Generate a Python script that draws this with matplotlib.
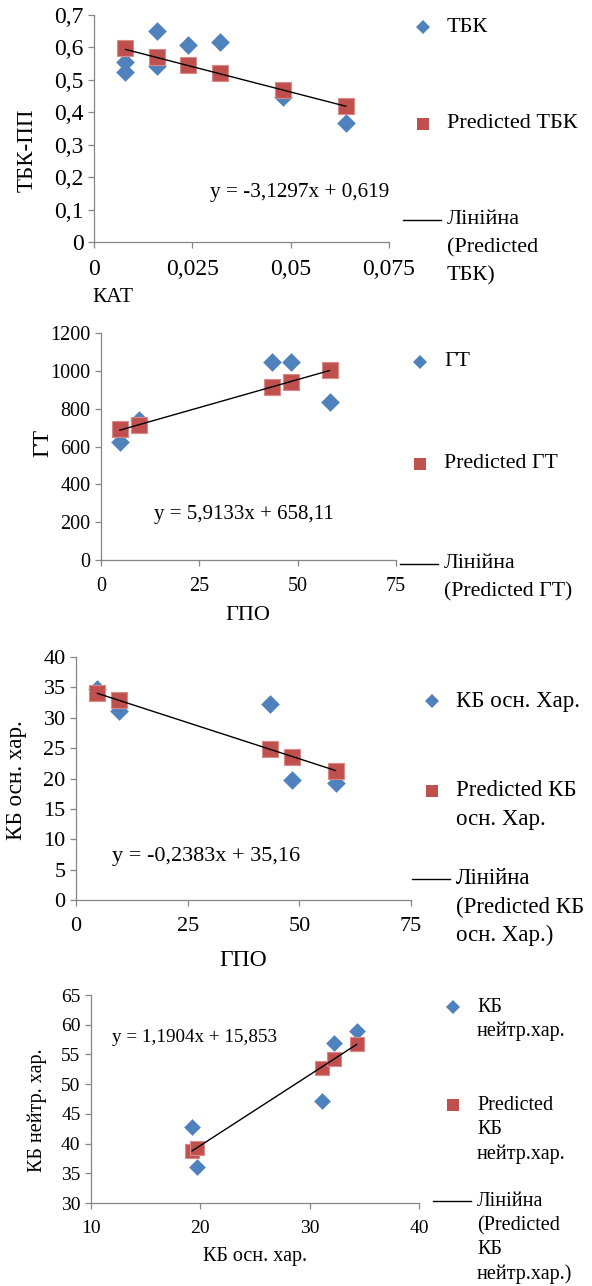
import matplotlib.pyplot as plt
from matplotlib.lines import Line2D
from matplotlib.ticker import FuncFormatter
import numpy as np

W, H = 592, 1286
plt.rcParams['font.family'] = ['Liberation Serif', 'DejaVu Serif']

# panel 1: КАТ vs ТБК-ПП
kat_x = [0.008, 0.008, 0.016, 0.016, 0.024, 0.032, 0.048, 0.064]
tbk_y = [0.556, 0.524, 0.651, 0.544, 0.608, 0.618, 0.447, 0.366]
kat_px = [0.008, 0.016, 0.024, 0.032, 0.048, 0.064]
tbk_pred = [0.597, 0.571, 0.546, 0.521, 0.469, 0.419]

# panel 2: ГПО vs ГТ
gpo_x = [4.8, 9.7, 43.4, 48.3, 58.1]
gt_y = [626, 741, 1045, 1045, 835]
gt_pred = [690, 715, 915, 943, 1003]

# panel 3: ГПО vs КБ осн. хар.
kbo_y = [34.8, 31.1, 32.2, 19.7, 19.3]
kbo_pred = [34.0, 32.9, 24.8, 23.6, 21.3]

# panel 4: КБ осн. хар. vs КБ нейтр. хар.
kbo_x = [19.25, 19.7, 31.1, 32.2, 34.3]
kbn_y = [42.8, 36.0, 47.2, 56.9, 58.9]
kbn_pred = [38.8, 39.3, 52.8, 54.2, 56.7]

fits = [(-3.1297, 0.619), (5.9133, 658.11), (-0.2383, 35.16), (1.1904, 15.853)]
eq_text = ["y = -3,1297x + 0,619", "y = 5,9133x + 658,11",
           "y = -0,2383x + 35,16", "y = 1,1904x + 15,853"]

BLUE = '#4F81BD'
RED = '#C0504D'
GRAY = '#868686'

fig = plt.figure(figsize=(W / 100, H / 100), dpi=100)


def rect(l, r, t, b):
    return [l / W, 1 - b / H, (r - l) / W, (b - t) / H]


def fx(x):
    return x / W


def fy(y):
    return 1 - y / H


comma = FuncFormatter(lambda v, p: ('%g' % round(v, 4)).replace('.', ','))


def panel(box, x, y, px, py, fit, xlim, ylim, xt, yt, fs, ms_d, ms_s):
    ax = fig.add_axes(rect(*box))
    ax.scatter(x, y, marker='D', s=ms_d ** 2, color=BLUE, zorder=3, linewidths=0)
    ax.scatter(px, py, marker='s', s=ms_s ** 2, color=RED, edgecolors='#D88A88',
               linewidths=0.8, zorder=4)
    xs = np.array([min(px), max(px)])
    ax.plot(xs, fit[0] * xs + fit[1], color='black', lw=1, zorder=5)
    ax.set_xlim(*xlim)
    ax.set_ylim(*ylim)
    ax.set_xticks(xt)
    ax.set_yticks(yt)
    ax.xaxis.set_major_formatter(comma)
    ax.yaxis.set_major_formatter(comma)
    for s in ['top', 'right']:
        ax.spines[s].set_visible(False)
    for s in ['left', 'bottom']:
        ax.spines[s].set_color(GRAY)
        ax.spines[s].set_linewidth(0.9)
    ax.tick_params(colors=GRAY, length=4, width=0.9, labelsize=fs,
                   labelcolor='black', direction='out')
    ax.tick_params(axis='x', pad=8)
    ax.patch.set_alpha(0)
    return ax


def legend(dx, labels, fs, gap):
    # labels: [(y, lines), ...] for diamond, square and line entries
    (y1, t1), (y2, t2), (y3, t3) = labels
    fig.add_artist(Line2D([fx(dx)], [fy(y1)], marker='D', ms=7, color=BLUE,
                          markeredgewidth=0, transform=fig.transFigure))
    fig.add_artist(Line2D([fx(dx)], [fy(y2)], marker='s', ms=9, color=RED,
                          markeredgewidth=0, transform=fig.transFigure))
    fig.add_artist(Line2D([fx(dx - 20), fx(dx + 18)], [fy(y3), fy(y3)],
                          color='black', lw=1, transform=fig.transFigure))
    tx = dx + 24
    for yy, lines in [(y1, t1), (y2, t2), (y3, t3)]:
        for i, ln in enumerate(lines):
            fig.text(fx(tx), fy(yy + i * gap), ln, fontsize=fs, va='center', ha='left')


# panel 1
panel((94, 389, 15, 242), kat_x, tbk_y, kat_px, tbk_pred, fits[0],
      (0, 0.075), (0, 0.7), [0, 0.025, 0.05, 0.075],
      [0, 0.1, 0.2, 0.3, 0.4, 0.5, 0.6, 0.7], 17, 9.5, 12)
fig.text(fx(300), fy(193), eq_text[0], fontsize=15.3, ha='center', va='center')
fig.text(fx(113), fy(297), "КАТ", fontsize=15.5, ha='center', va='center')
fig.text(fx(27), fy(150), "ТБК-ПП", fontsize=16.5, ha='center', va='center', rotation=90)
legend(423, [(27, ["ТБК"]), (124, ["Predicted ТБК"]),
             (220, ["Лінійна", "(Predicted", "ТБК)"])], 16, 28)

# panel 2
panel((101, 396, 333, 560), gpo_x, gt_y, gpo_x, gt_pred, fits[1],
      (0, 75), (0, 1200), [0, 25, 50, 75], list(range(0, 1201, 200)),
      14.5, 9.5, 12)
fig.text(fx(244), fy(515), eq_text[1], fontsize=15, ha='center', va='center')
fig.text(fx(248), fy(615), "ГПО", fontsize=16, ha='center', va='center')
fig.text(fx(43), fy(443), "ГТ", fontsize=17, ha='center', va='center', rotation=90)
legend(420, [(362, ["ГТ"]), (464, ["Predicted ГТ"]),
             (564, ["Лінійна", "(Predicted ГТ)"])], 15.7, 28)

# panel 3
panel((76, 411, 657, 900), gpo_x, kbo_y, gpo_x, kbo_pred, fits[2],
      (0, 75), (0, 40), [0, 25, 50, 75], list(range(0, 41, 5)),
      16, 9.5, 12)
fig.text(fx(206), fy(857), eq_text[2], fontsize=16, ha='center', va='center')
fig.text(fx(243), fy(960), "ГПО", fontsize=17, ha='center', va='center')
fig.text(fx(17), fy(780), "КБ осн. хар.", fontsize=16.7, ha='center', va='center', rotation=90)
legend(432, [(701, ["КБ осн. Хар."]), (791, ["Predicted КБ", "осн. Хар."]),
             (879, ["Лінійна", "(Predicted КБ", "осн. Хар.)"])], 16.5, 28)

# panel 4
panel((91, 419, 995, 1203), kbo_x, kbn_y, kbo_x, kbn_pred, fits[3],
      (10, 40), (30, 65), [10, 20, 30, 40], list(range(30, 66, 5)),
      14, 8.5, 10.5)
fig.text(fx(195), fy(1037), eq_text[3], fontsize=13.8, ha='center', va='center')
fig.text(fx(255), fy(1256), "КБ осн. хар.", fontsize=14.5, ha='center', va='center')
fig.text(fx(37), fy(1110), "КБ нейтр. хар.", fontsize=14.5, ha='center', va='center', rotation=90)
legend(453, [(1007, ["КБ", "нейтр.хар."]), (1105, ["Predicted", "КБ", "нейтр.хар."]),
             (1201, ["Лінійна", "(Predicted", "КБ", "нейтр.хар.)"])], 14.5, 24.5)

fig.savefig("out.png", dpi=100)
